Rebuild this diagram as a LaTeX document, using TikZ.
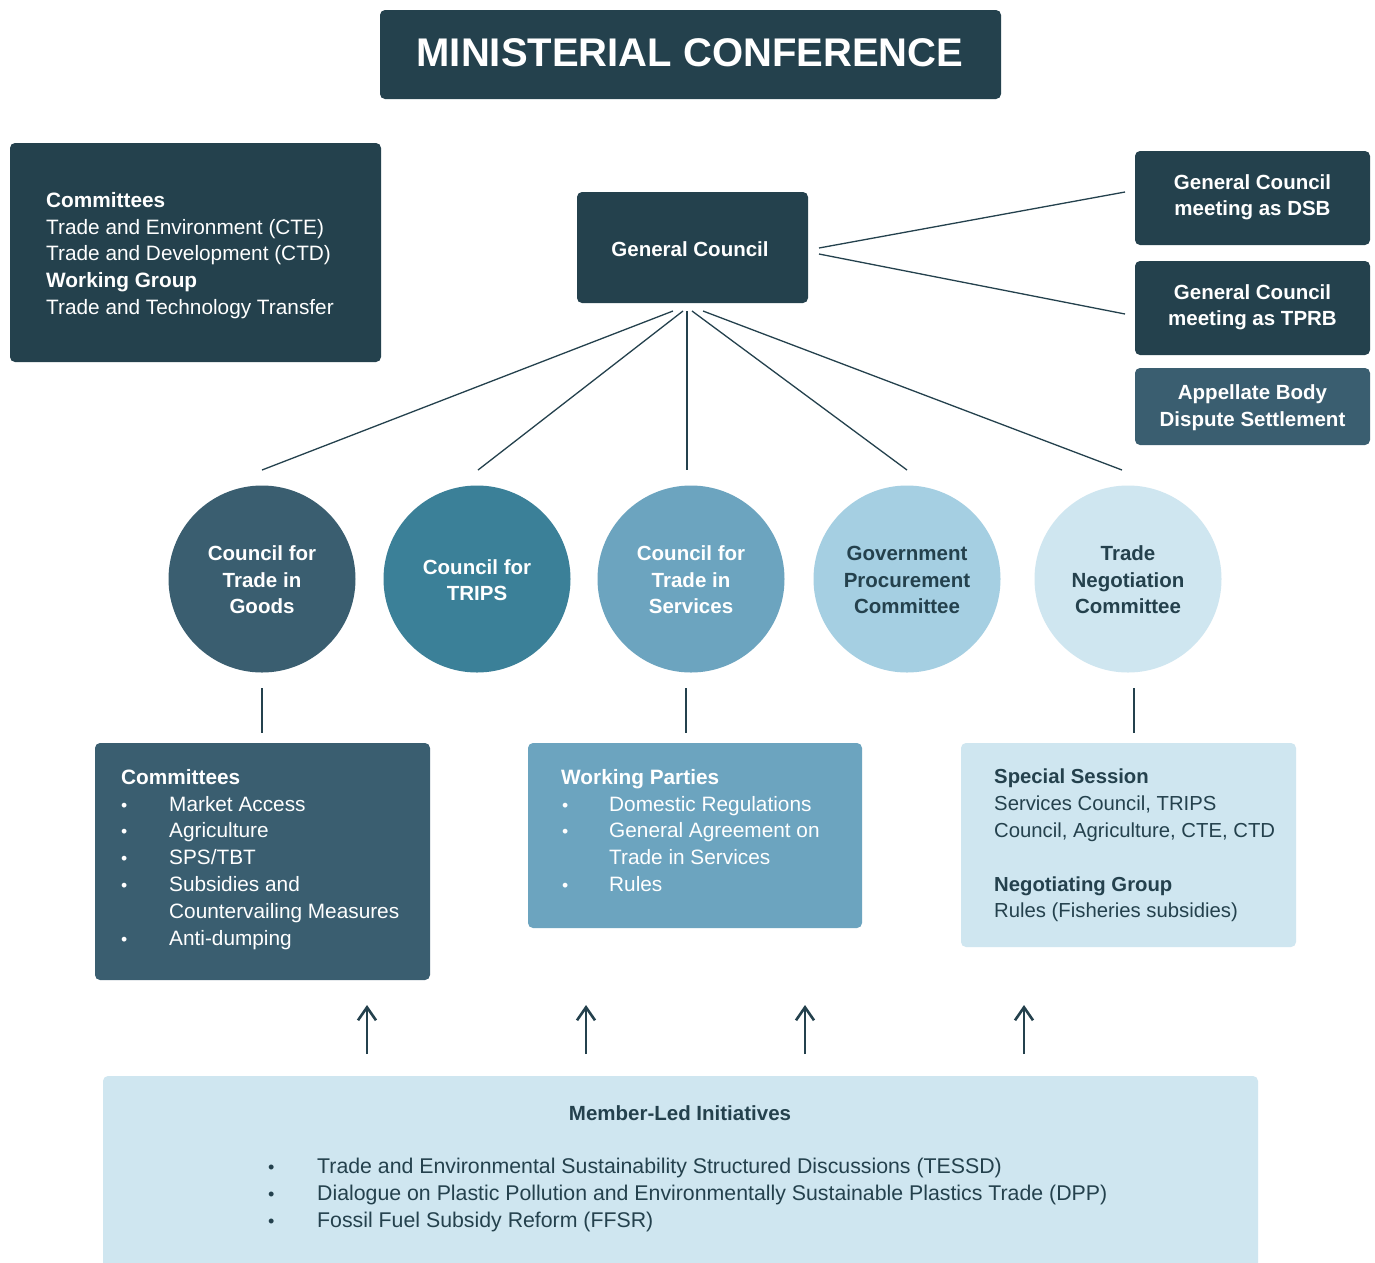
\documentclass[tikz,border=0pt]{standalone}
\usepackage{fontspec}
\setmainfont{Liberation Sans}
\usetikzlibrary{arrows.meta}
\definecolor{cdark}{HTML}{24414D}
\definecolor{cmid}{HTML}{3A5E70}
\definecolor{ctrips}{HTML}{3B8098}
\definecolor{cserv}{HTML}{6CA4BF}
\definecolor{cgp}{HTML}{A5CFE2}
\definecolor{ctnc}{HTML}{CFE6F0}
\newcommand{\bul}{\scalebox{0.85}{•}}
\begin{document}
\begin{tikzpicture}[x=1pt,y=-1pt,
  box/.style={rectangle, rounded corners=5pt, inner sep=0pt, draw=none},
  ttl/.style={inner sep=0pt, align=center, font=\fontsize{20.5}{26.5}\selectfont\bfseries},
  txt/.style={inner sep=0pt, align=left, anchor=north west, font=\fontsize{20.8}{26.8}\selectfont},
  circ/.style={circle, minimum size=187pt, inner sep=0pt},
  conn/.style={draw=cdark, line width=1.3pt},
  uparrow/.style={draw=cdark, line width=2.6pt, -{Straight Barb[length=13pt,width=18pt]}}
]
\useasboundingbox (0,0) rectangle (1375,1262);
\fill[white] (0,0) rectangle (1375,1262);

% title
\node[box, fill=cdark, minimum width=621pt, minimum height=89pt] (mc) at (690.5,54.5) {};
\node[inner sep=0pt, text=white, font=\fontsize{40}{48}\selectfont\bfseries] (mct) at (690,53) {MINISTERIAL CONFERENCE};

% left committees box
\node[box, fill=cdark, minimum width=371pt, minimum height=219pt] (cbox) at (195.5,252.5) {};
\node[txt, text=white] (cboxt) at (46,192) {\textbf{Committees}\\Trade and Environment (CTE)\\Trade and Development (CTD)\\\textbf{Working Group}\\Trade and Technology Transfer};

% general council
\node[box, fill=cdark, minimum width=231pt, minimum height=111pt] (gc) at (692.5,247.5) {};
\node[ttl, text=white] (gct) at (690,249) {General Council};

% right boxes
\node[box, fill=cdark, minimum width=235pt, minimum height=94pt] (dsb) at (1252.5,198) {};
\node[ttl, text=white] (dsbt) at (1252.5,197) {General Council\\meeting as DSB};
\node[box, fill=cdark, minimum width=235pt, minimum height=94pt] (tprb) at (1252.5,308) {};
\node[ttl, text=white] (tprbt) at (1252.5,307) {General Council\\meeting as TPRB};
\node[box, fill=cmid, minimum width=235pt, minimum height=77pt] (ab) at (1252.5,406.5) {};
\node[ttl, text=white] (abt) at (1252.5,407.5) {Appellate Body\\Dispute Settlement};

% connectors to right boxes
\coordinate (gr1) at (819,248);
\coordinate (gr2) at (819,254);
\coordinate (dsbe) at (1125,192);
\coordinate (tprbe) at (1125,314);
\draw[conn] (gr1) -- (dsbe);
\draw[conn] (gr2) -- (tprbe);

% circles
\node[circ, fill=cmid] (goods) at (262,579) {};
\node[ttl, text=white] (goodst) at (262,580) {Council for\\Trade in\\Goods};
\node[circ, fill=ctrips] (trips) at (477,579) {};
\node[ttl, text=white] (tripst) at (477,580) {Council for\\TRIPS};
\node[circ, fill=cserv] (serv) at (691,579) {};
\node[ttl, text=white] (servt) at (691,580) {Council for\\Trade in\\Services};
\node[circ, fill=cgp] (gp) at (907,579) {};
\node[ttl, text=cdark] (gpt) at (907,580) {Government\\Procurement\\Committee};
\node[circ, fill=ctnc] (tnc) at (1128,579) {};
\node[ttl, text=cdark] (tnct) at (1128,580) {Trade\\Negotiation\\Committee};

% fan connectors
\coordinate (f1) at (673,311); \coordinate (e1) at (262,470);
\coordinate (f2) at (683,311); \coordinate (e2) at (478,470);
\coordinate (f3) at (687,311); \coordinate (e3) at (687,470);
\coordinate (f4) at (692,311); \coordinate (e4) at (907,470);
\coordinate (f5) at (703,311); \coordinate (e5) at (1122,470);
\draw[conn] (f1) -- (e1);
\draw[conn] (f2) -- (e2);
\draw[conn] (f3) -- (e3);
\draw[conn] (f4) -- (e4);
\draw[conn] (f5) -- (e5);

% vertical connectors
\coordinate (v1a) at (262,688); \coordinate (v1b) at (262,733);
\coordinate (v2a) at (686,688); \coordinate (v2b) at (686,733);
\coordinate (v3a) at (1134,688); \coordinate (v3b) at (1134,733);
\draw[conn] (v1a) -- (v1b);
\draw[conn] (v2a) -- (v2b);
\draw[conn] (v3a) -- (v3b);

% lower boxes
\node[box, fill=cmid, minimum width=335pt, minimum height=237pt] (gbox) at (262.5,861.5) {};
\node[txt, text=white] (gboxt) at (121,769) {\textbf{Committees}\\
\makebox[48pt][l]{\bul}Market Access\\
\makebox[48pt][l]{\bul}Agriculture\\
\makebox[48pt][l]{\bul}SPS/TBT\\
\makebox[48pt][l]{\bul}Subsidies and\\
\hspace*{48pt}Countervailing Measures\\
\makebox[48pt][l]{\bul}Anti-dumping};

\node[box, fill=cserv, minimum width=334pt, minimum height=185pt] (sbox) at (695,835.5) {};
\node[txt, text=white] (sboxt) at (561,769) {\textbf{Working Parties}\\
\makebox[48pt][l]{\hspace*{1pt}\bul}Domestic Regulations\\
\makebox[48pt][l]{\hspace*{1pt}\bul}General Agreement on\\
\hspace*{48pt}Trade in Services\\
\makebox[48pt][l]{\hspace*{1pt}\bul}Rules};

\node[box, fill=ctnc, minimum width=335pt, minimum height=204pt] (tbox) at (1128.5,845) {};
\node[txt, text=cdark, font=\fontsize{20.3}{26.8}\selectfont] (tboxt) at (994,769) {\textbf{Special Session}\\
Services Council, TRIPS\\
Council, Agriculture, CTE, CTD\\[26.8pt]
\textbf{Negotiating Group}\\
Rules (Fisheries subsidies)};

% bottom box
\node[box, fill=ctnc, minimum width=1155pt, minimum height=210pt] (mli) at (680.5,1181) {};
\node[ttl, text=cdark] (mlit) at (680,1113) {Member-Led Initiatives};
\node[txt, text=cdark, font=\fontsize{21.3}{26.8}\selectfont] (mlil) at (268,1158) {%
\makebox[49pt][l]{\bul}Trade and Environmental Sustainability Structured Discussions (TESSD)\\
\makebox[49pt][l]{\bul}Dialogue on Plastic Pollution and Environmentally Sustainable Plastics Trade (DPP)\\
\makebox[49pt][l]{\bul}Fossil Fuel Subsidy Reform (FFSR)};

% arrows
\coordinate (a1s) at (367,1054); \coordinate (a1e) at (367,1005);
\coordinate (a2s) at (586,1054); \coordinate (a2e) at (586,1005);
\coordinate (a3s) at (805,1054); \coordinate (a3e) at (805,1005);
\coordinate (a4s) at (1024,1054); \coordinate (a4e) at (1024,1005);
\draw[uparrow] (a1s) -- (a1e);
\draw[uparrow] (a2s) -- (a2e);
\draw[uparrow] (a3s) -- (a3e);
\draw[uparrow] (a4s) -- (a4e);
\end{tikzpicture}
\end{document}
